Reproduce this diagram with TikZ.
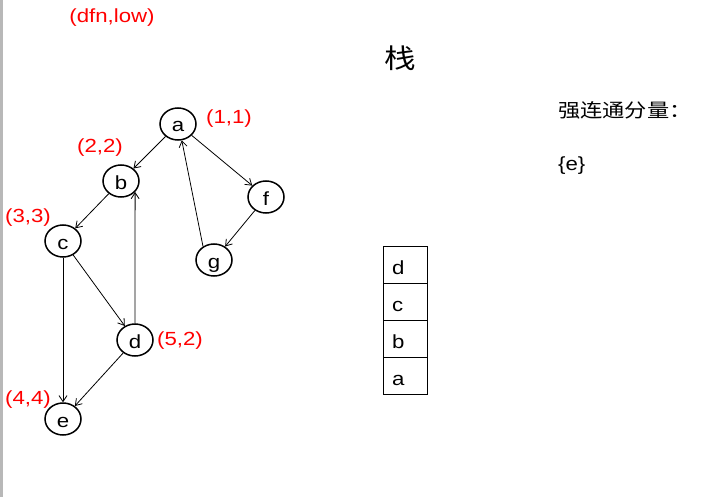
\documentclass[tikz,border=0pt]{standalone}
\usepackage{fontspec}
\setmainfont{Liberation Sans}[FakeStretch=1.17]
\newfontfamily\cjk{Noto Sans CJK SC}[FakeStretch=1.17]
\usetikzlibrary{shapes.geometric,arrows.meta}
\tikzset{
  vtx/.style={draw, ellipse, line width=1.5pt, minimum width=36pt, minimum height=32pt,
    inner sep=0pt, text height=16pt, text depth=0pt, font=\fontsize{19pt}{21pt}\selectfont},
  lbl/.style={text=red, inner sep=0pt, font=\fontsize{19pt}{21pt}\selectfont},
  edge/.style={line width=0.8pt, -{Straight Barb[length=6pt,width=8pt]}},
  stk/.style={draw, line width=0.9pt, minimum width=44pt, minimum height=37pt, inner sep=0pt},
  stklet/.style={anchor=base west, inner sep=0pt, font=\fontsize{19pt}{21pt}\selectfont},
  txt/.style={inner sep=0pt, font=\fontsize{19pt}{21pt}\selectfont}
}
\begin{document}
\begin{tikzpicture}[x=1pt,y=-1pt]
\useasboundingbox (0,0) rectangle (711,497);
\fill[black!28] (0,0) rectangle (3,497);

% vertices
\node[vtx] (a) at (178,124) {a};
\node[vtx] (b) at (121,181) {b};
\node[vtx] (c) at (63,241) {c};
\node[vtx] (d) at (135,340) {d};
\node[vtx] (e) at (63,419) {e};
\node[vtx] (f) at (266,197) {f};
\node[vtx] (g) at (214,260) {g};

% labels
\node[lbl] (hdr) at (112,18) {(dfn,low)};
\node[lbl] (la) at (229,119) {(1,1)};
\node[lbl] (lb) at (100,148) {(2,2)};
\node[lbl] (lc) at (28,218) {(3,3)};
\node[lbl] (ld) at (180,341) {(5,2)};
\node[lbl] (le) at (28,400) {(4,4)};

% edges
\draw[edge] (a) -- (b);
\draw[edge] (a) -- (f);
\draw[edge] (b) -- (c);
\draw[edge] (c) -- (d);
\draw[edge] (c) -- (e);
\draw[edge] (d.north) -- (b.-38);
\draw[edge] (d) -- (e);
\draw[edge] (f) -- (g);
\draw[edge] (g.129) -- (a.-77);

% stack
\node[inner sep=0pt, font=\cjk\fontsize{27pt}{30pt}\selectfont] (stacktitle) at (400,58) {栈};
\node[stk] (s1) at (405,265) {};
\node[stk] (s2) at (405,302) {};
\node[stk] (s3) at (405,339) {};
\node[stk] (s4) at (405,376) {};
\node[stklet] (t1) at (392,274) {d};
\node[stklet] (t2) at (392,311) {c};
\node[stklet] (t3) at (392,348) {b};
\node[stklet] (t4) at (392,385) {a};

% SCC
\node[anchor=west, inner sep=0pt, font=\cjk\fontsize{19pt}{21pt}\selectfont] (scc) at (558,110) {强连通分量：};
\node[txt, anchor=west] (scce) at (558,166) {\{e\}};
\end{tikzpicture}
\end{document}
